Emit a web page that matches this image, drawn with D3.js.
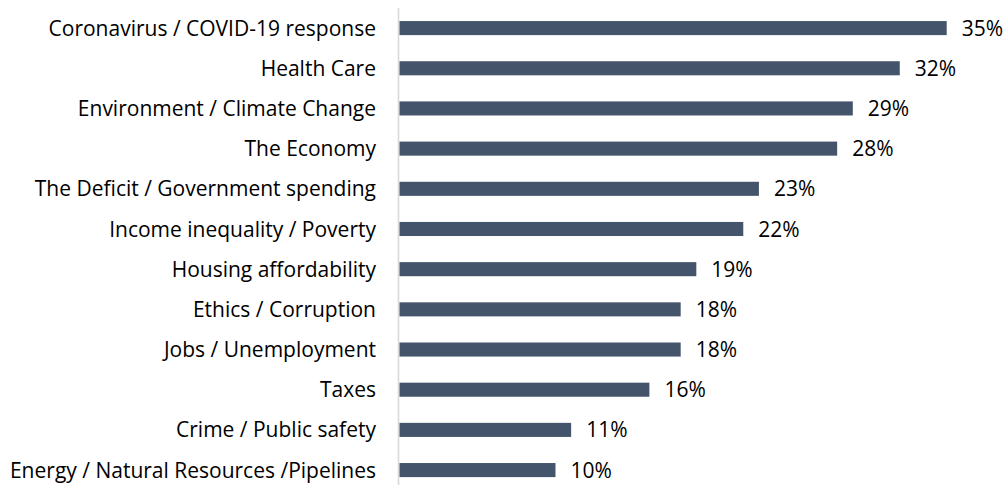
<!DOCTYPE html>
<html>
<head>
<meta charset="utf-8">
<script src="https://cdn.jsdelivr.net/npm/d3@7"></script>
<style>
  html, body { margin: 0; padding: 0; background: #fff; }
  svg { display: block; }
  text { font-family: "Open Sans", Lato, sans-serif; fill: #000; }
</style>
</head>
<body>
<svg id="chart" width="1006" height="485"></svg>
<script>
const categories = [
  "Coronavirus / COVID-19 response",
  "Health Care",
  "Environment / Climate Change",
  "The Economy",
  "The Deficit / Government spending",
  "Income inequality / Poverty",
  "Housing affordability",
  "Ethics / Corruption",
  "Jobs / Unemployment",
  "Taxes",
  "Crime / Public safety",
  "Energy / Natural Resources /Pipelines"
];
const values = [35, 32, 29, 28, 23, 22, 19, 18, 18, 16, 11, 10];

const svg = d3.select("#chart");
const x = d3.scaleLinear().domain([0, 35]).range([399, 946.7]);
const y = d3.scaleBand().domain(categories).range([8, 8 + 12 * 40.18])
  .paddingInner(0.65).paddingOuter(0.325);

// axis line
svg.append("line")
  .attr("x1", 398.5).attr("x2", 398.5)
  .attr("y1", 8).attr("y2", 485)
  .attr("stroke", "#d9d9d9").attr("stroke-width", 1.6);

const data = categories.map((c, i) => ({ c, v: values[i] }));

svg.selectAll("rect.bar").data(data).join("rect")
  .attr("class", "bar")
  .attr("x", x(0) + 0.5)
  .attr("y", d => y(d.c))
  .attr("width", d => x(d.v) - x(0) - 0.5)
  .attr("height", y.bandwidth())
  .attr("fill", "#44546a");

svg.selectAll("text.cat").data(data).join("text")
  .attr("class", "cat")
  .attr("x", 376)
  .attr("y", d => y(d.c) + y.bandwidth() / 2)
  .attr("dy", "0.36em")
  .attr("text-anchor", "end")
  .style("font-size", "21px")
  .text(d => d.c);

svg.selectAll("text.val").data(data).join("text")
  .attr("class", "val")
  .attr("x", d => x(d.v) + 15)
  .attr("y", d => y(d.c) + y.bandwidth() / 2)
  .attr("dy", "0.36em")
  .style("font-size", "21px")
  .text(d => d.v + "%");
</script>
</body>
</html>
